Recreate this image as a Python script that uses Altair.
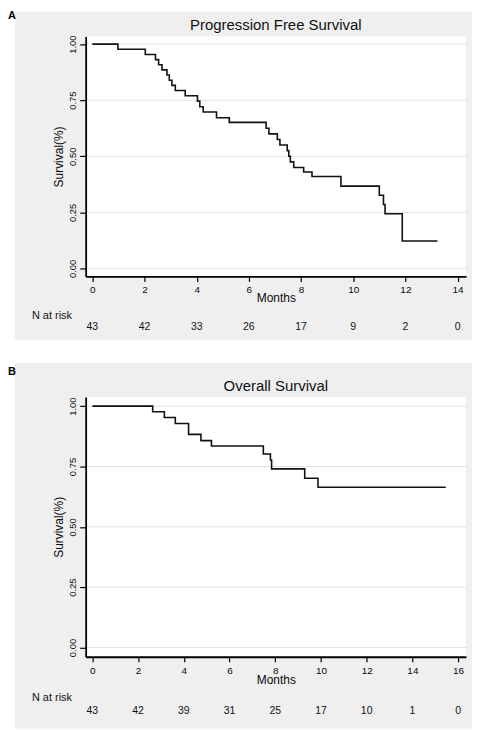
import altair as alt
import pandas as pd

# ---- data ----
pfs_months = [0, 0.98, 2.03, 2.42, 2.54, 2.67, 2.86, 2.95, 3.05, 3.18, 3.56, 4.03, 4.12, 4.25,
              4.76, 5.25, 6.66, 6.77, 7.09, 7.19, 7.47, 7.53, 7.59, 7.72, 8.10, 8.42, 9.53,
              11.00, 11.16, 11.22, 11.88, 13.23]
pfs_surv = [1.0, 0.977, 0.954, 0.931, 0.908, 0.885, 0.862, 0.839, 0.816, 0.793, 0.770, 0.746,
            0.721, 0.697, 0.672, 0.651, 0.625, 0.600, 0.575, 0.550, 0.525, 0.500, 0.475, 0.450,
            0.430, 0.410, 0.367, 0.326, 0.285, 0.244, 0.122, 0.122]

os_months = [0, 2.64, 3.15, 3.63, 4.21, 4.75, 5.21, 7.48, 7.79, 7.84, 9.29, 9.87, 15.46]
os_surv = [1.0, 0.977, 0.953, 0.928, 0.883, 0.857, 0.835, 0.802, 0.777, 0.740, 0.701, 0.664, 0.664]

pfs_ticks = [0, 2, 4, 6, 8, 10, 12, 14]
pfs_risk = [43, 42, 33, 26, 17, 9, 2, 0]
os_ticks = [0, 2, 4, 6, 8, 10, 12, 14, 16]
os_risk = [43, 42, 39, 31, 25, 17, 10, 1, 0]
y_ticks = [0.0, 0.25, 0.50, 0.75, 1.00]

GRAY = "#efefef"
FONT = "Liberation Sans"
W = 382

AX = dict(domainColor="black", domainWidth=1.8, tickColor="black", tickWidth=1.2,
          labelColor="#0a0a0a", titleColor="#0a0a0a", labelFont=FONT, titleFont=FONT,
          zindex=1, grid=False, titleFontWeight="normal")


def panel(letter, title, months, surv, ticks, risk, xdom, ydom, h,
          bg_top, bg_bottom, letter_y, label_pad, title_y, risk_label_y, risk_y):
    one = pd.DataFrame({"k": [0]})
    curve_df = pd.DataFrame({"Months": months, "Survival": surv})
    grid_df = pd.DataFrame({"Survival": y_ticks})
    risk_df = pd.DataFrame({"Months": ticks, "N": [str(n) for n in risk]})

    X = alt.X("Months:Q",
              scale=alt.Scale(domain=xdom, nice=False, zero=False),
              axis=alt.Axis(values=ticks, format="d", title="Months",
                            tickSize=5, labelPadding=label_pad, labelFontSize=10,
                            titleY=title_y, titleBaseline="middle", titleFontSize=12, **AX))
    Y = alt.Y("Survival:Q",
              scale=alt.Scale(domain=ydom, nice=False, zero=False),
              axis=alt.Axis(values=y_ticks, format=".2f", title="Survival(%)",
                            tickSize=6, labelPadding=2, labelAngle=270, labelAlign="center",
                            labelBaseline="bottom", labelFontSize=9.5, titlePadding=2,
                            titleFontSize=12, **AX))

    bg = alt.Chart(one).mark_rect(color=GRAY).encode(
        x=alt.value(-71), x2=alt.value(W + 6), y=alt.value(bg_top), y2=alt.value(bg_bottom))
    plot_bg = alt.Chart(one).mark_rect(color="white").encode(
        x=alt.value(0), x2=alt.value(W), y=alt.value(0), y2=alt.value(h))
    grid = alt.Chart(grid_df).mark_rule(color="#e2e2e2", strokeWidth=1).encode(
        y=Y, x=alt.value(0), x2=alt.value(W))
    curve = alt.Chart(curve_df).mark_line(
        interpolate="step-after", color="#111111", strokeWidth=1.6).encode(x=X, y=Y)
    letter_t = alt.Chart(one).mark_text(
        align="left", baseline="middle", fontSize=11, fontWeight="bold", font=FONT,
        color="black").encode(x=alt.value(-78), y=alt.value(letter_y), text=alt.value(letter))
    title_t = alt.Chart(one).mark_text(
        align="center", baseline="middle", fontSize=15, font=FONT, color="#111111").encode(
        x=alt.value(W / 2), y=alt.value(-11.3), text=alt.value(title))
    risk_lab = alt.Chart(one).mark_text(
        align="left", baseline="middle", fontSize=11, font=FONT, color="#111111").encode(
        x=alt.value(-54), y=alt.value(risk_label_y), text=alt.value("N at risk"))
    risk_num = alt.Chart(risk_df).mark_text(
        align="center", baseline="middle", fontSize=10.5, font=FONT, color="#111111").encode(
        x=X, y=alt.value(risk_y), text="N:N")

    return alt.layer(bg, plot_bg, grid, curve, letter_t, title_t, risk_lab, risk_num).properties(
        width=W, height=h)


pA = panel("A", "Progression Free Survival", pfs_months, pfs_surv, pfs_ticks, pfs_risk,
           [-0.2557, 14.324], [-0.0355, 1.0342], 241,
           -25, 305, -21, 3, 21.5, 280.3, 292)
pB = panel("B", "Overall Survival", os_months, os_surv, os_ticks, os_risk,
           [-0.2918, 16.346], [-0.0384, 1.0384], 261,
           -34, 333, -25, 4, 22.5, 302.3, 315.7)

chart = alt.vconcat(pA, pB, spacing=23).properties(padding=0).configure_view(stroke=None)

chart.save("out.html", embed_options={"renderer": "svg", "actions": False})
